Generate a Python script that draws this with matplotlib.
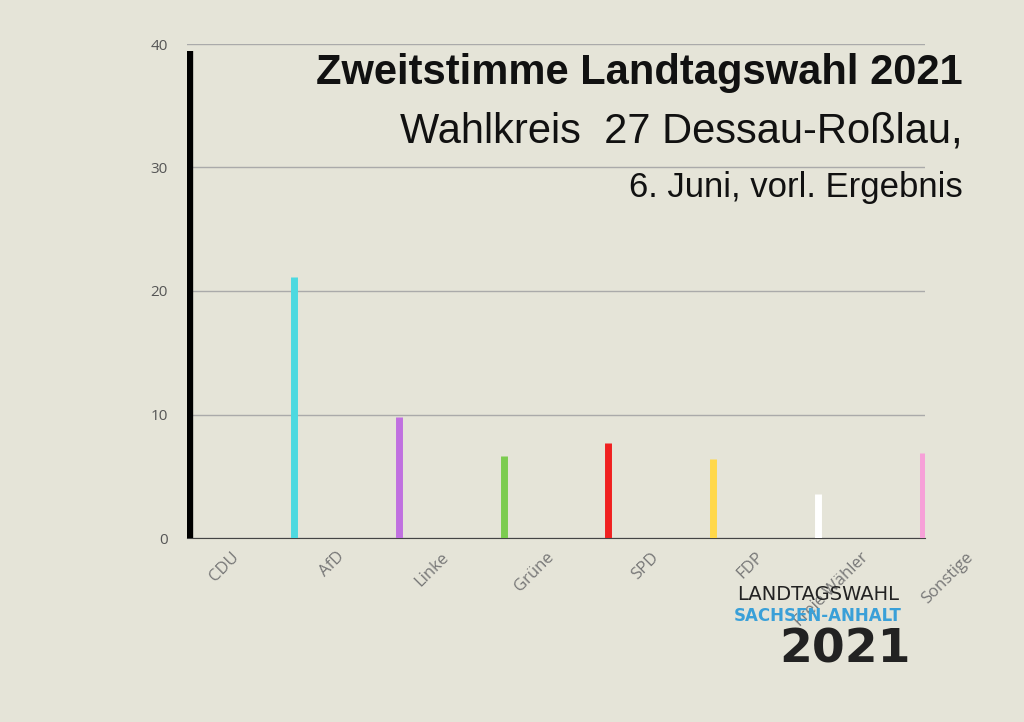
import matplotlib
matplotlib.use("Agg")
import matplotlib.pyplot as plt
from matplotlib.transforms import ScaledTranslation

parties = ["CDU", "AfD", "Linke", "Grüne", "SPD", "FDP", "Freie Wähler", "Sonstige"]
values = [39.4, 21.1, 9.8, 6.6, 7.7, 6.4, 3.6, 6.9]
colors = ["#000000", "#4dd9e0", "#c070e0", "#7ccc50", "#f02020", "#ffd84a", "#ffffff", "#f7a0d8"]
yticks = [0, 10, 20, 30, 40]

bg = "#e5e4d8"
fig = plt.figure(figsize=(10.24, 7.22), dpi=100, facecolor=bg)
ax = fig.add_axes([187/1024, 1-538/722, (925-187)/1024, (538-44)/722], facecolor=bg)
x = list(range(len(parties)))
for xi, v, c in zip(x, values, colors):
    ax.vlines(xi, 0, v, color=c, linewidth=6 if xi == 0 else 5, zorder=3)
ax.set_xlim(-0.02, 7.02)
ax.set_ylim(0, 40)
ax.set_yticks(yticks)
ax.set_yticklabels([str(t) for t in yticks], color="#555555", fontsize=11, family="Open Sans")
ax.grid(axis="y", color="#aaaaaa", linewidth=1)
ax.set_axisbelow(True)
for s in ["top", "right", "left"]:
    ax.spines[s].set_visible(False)
ax.spines["bottom"].set_color("#444444")
ax.tick_params(axis="y", length=0, pad=14)
ax.tick_params(axis="x", length=0, pad=8)
ax.set_xticks(x)
ax.set_xticklabels(parties, rotation=45, ha="right", rotation_mode="anchor",
                   color="#777777", fontsize=12, family="Open Sans")
off = ScaledTranslation(0.42, 0, fig.dpi_scale_trans)
for lab in ax.get_xticklabels():
    lab.set_transform(lab.get_transform() + off)

fam = ["Liberation Sans", "DejaVu Sans"]
fig.text(963/1024, 1-73/722, "Zweitstimme Landtagswahl 2021", ha="right", va="center",
         fontsize=30, fontweight="bold", family=fam, color="#111111")
fig.text(963/1024, 1-131/722, "Wahlkreis  27 Dessau-Roßlau,", ha="right", va="center",
         fontsize=30, family=fam, color="#111111")
fig.text(963/1024, 1-187/722, "6. Juni, vorl. Ergebnis", ha="right", va="center",
         fontsize=25, family=fam, color="#111111")

# logo approximation
fig.text(818/1024, 1-594/722, "LANDTAGSWAHL", ha="center", va="center", fontsize=14, color="#222222")
fig.text(818/1024, 1-616/722, "SACHSEN-ANHALT", ha="center", va="center", fontsize=12, fontweight="bold", color="#3aa0d8")
fig.text(845/1024, 1-650/722, "2021", ha="center", va="center", fontsize=34, fontweight="bold", color="#222222")

fig.savefig("out.png", dpi=100, facecolor=bg)
